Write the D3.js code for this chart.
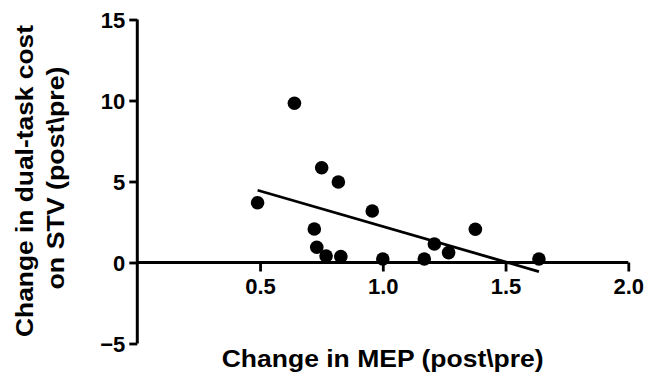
<!DOCTYPE html>
<html>
<head>
<meta charset="utf-8">
<script src="https://cdn.jsdelivr.net/npm/d3@7"></script>
<style>
html,body{margin:0;padding:0;background:#fff;}
svg{display:block;}
text{font-family:"Liberation Sans",Arial,sans-serif;font-weight:bold;fill:#000;}
</style>
</head>
<body>
<script>
// Data
const mepChange = [0.49, 0.64, 0.721, 0.731, 0.751, 0.769, 0.819, 0.829, 0.957, 1.0, 1.169, 1.21, 1.268, 1.377, 1.636];
const stvChange = [3.69, 9.83, 2.07, 0.94, 5.85, 0.40, 4.97, 0.36, 3.18, 0.22, 0.22, 1.14, 0.61, 2.05, 0.22];
const fitX = [0.49, 1.636];
const fitY = [4.46, -0.56];
const xTicks = [0.5, 1.0, 1.5, 2.0];
const yTicks = [-5, 0, 5, 10, 15];
const xTitle = "Change in MEP (post\\pre)";
const yTitle = ["Change in dual-task cost", "on STV (post\\pre)"];

const W = 646, H = 378;
const svg = d3.select("body").append("svg").attr("width", W).attr("height", H);

const x = d3.scaleLinear().domain([0, 2]).range([137.3, 628.3]);
const y = d3.scaleLinear().domain([-5, 15]).range([343.5, 19.5]);

// Y axis
const yAxis = d3.axisLeft(y).tickValues(yTicks).tickSize(8).tickPadding(4)
  .tickFormat(d3.format("d"));
const gy = svg.append("g").attr("transform", `translate(${x(0)},0)`).call(yAxis);
gy.select(".domain").attr("d", `M-0,${y(15)}H0V${y(-5)}H-0`).attr("stroke", "#000").attr("stroke-width", 3);
gy.selectAll(".tick line").attr("stroke", "#000").attr("stroke-width", 2.8);
gy.selectAll(".tick text").style("font-size", "22px").attr("dy", "0.36em").attr("fill", "#000");

// X axis at y=0
const xAxis = d3.axisBottom(x).tickValues(xTicks).tickSize(9).tickPadding(7)
  .tickFormat(d3.format(".1f"));
const gx = svg.append("g").attr("transform", `translate(0,${y(0)})`).call(xAxis);
gx.select(".domain").attr("d", `M${x(0)},0H${x(2)}`).attr("stroke", "#000").attr("stroke-width", 3);
gx.selectAll(".tick line").attr("stroke", "#000").attr("stroke-width", 2.8);
gx.selectAll(".tick text").style("font-size", "22px").attr("fill", "#000");

// Regression line
svg.append("line")
  .attr("x1", x(fitX[0])).attr("y1", y(fitY[0]))
  .attr("x2", x(fitX[1])).attr("y2", y(fitY[1]))
  .attr("stroke", "#000").attr("stroke-width", 2.8);

// Points
svg.append("g").selectAll("circle")
  .data(mepChange.map((v, i) => [v, stvChange[i]]))
  .join("circle")
  .attr("cx", d => x(d[0])).attr("cy", d => y(d[1]))
  .attr("r", 6.8).attr("fill", "#000");

// X title
svg.append("text")
  .attr("x", 221.7).attr("y", 366.7)
  .attr("textLength", 322).attr("lengthAdjust", "spacingAndGlyphs")
  .style("font-size", "24px")
  .text(xTitle);

// Y title (two lines)
const yt = svg.append("g").attr("transform", "translate(0,181) rotate(-90)");
yt.append("text").attr("x", 0).attr("y", 33).attr("text-anchor", "middle")
  .attr("textLength", 312).attr("lengthAdjust", "spacingAndGlyphs")
  .style("font-size", "24px").text(yTitle[0]);
yt.append("text").attr("x", 3).attr("y", 64).attr("text-anchor", "middle")
  .attr("textLength", 223).attr("lengthAdjust", "spacingAndGlyphs")
  .style("font-size", "24px").text(yTitle[1]);
</script>
</body>
</html>
